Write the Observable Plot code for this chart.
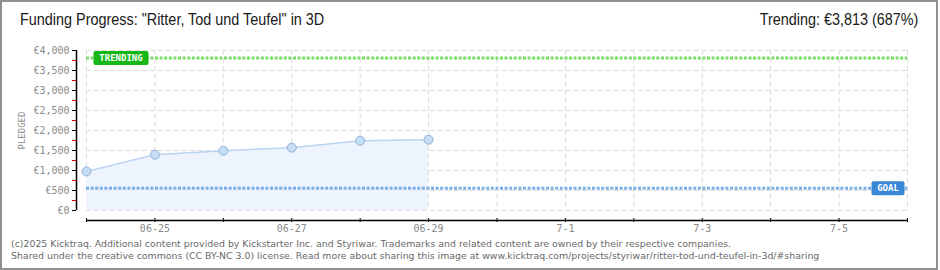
<!DOCTYPE html>
<html><head><meta charset="utf-8">
<script src="https://cdn.jsdelivr.net/npm/d3@7"></script>
<script src="https://cdn.jsdelivr.net/npm/@observablehq/plot@0.6"></script>
<style>
body{margin:0;background:#fff;}
#wrap{position:relative;width:940px;height:270px;overflow:hidden;background:#fff}
#border{position:absolute;left:0;top:0;width:938px;height:270px;box-sizing:border-box;border:2px solid #8e8e8e;pointer-events:none}
#chart{position:absolute;left:0;top:0}
#title{position:absolute;left:20px;top:11px;font-family:"Liberation Sans","DejaVu Sans",sans-serif;font-size:16px;color:#1a1a1a;white-space:nowrap;transform:scaleX(0.9);transform-origin:left top}
#trend{position:absolute;right:22px;top:11px;font-family:"Liberation Sans","DejaVu Sans",sans-serif;font-size:16px;color:#1a1a1a;white-space:nowrap;transform:scaleX(0.9);transform-origin:right top}
.foot{position:absolute;left:11px;font-family:"DejaVu Sans",sans-serif;font-size:9.4px;color:#6a6a6a;white-space:nowrap}
</style></head>
<body>
<div id="wrap">
  <div id="chart"></div>
  <div id="title"></div>
  <div id="trend"></div>
  <div class="foot" id="foot1" style="top:238px"></div>
  <div class="foot" id="foot2" style="top:250px"></div>
  <div id="border"></div>
</div>
<script>
// ---- data ----
const titleText = 'Funding Progress: "Ritter, Tod und Teufel" in 3D';
const trendText = "Trending:  €3,813 (687%)";
const footLines = [
  "(c)2025 Kicktraq. Additional content provided by Kickstarter Inc. and Styriwar. Trademarks and related content are owned by their respective companies.",
  "Shared under the creative commons (CC BY-NC 3.0) license. Read more about sharing this image at www.kicktraq.com/projects/styriwar/ritter-tod-und-teufel-in-3d/#sharing"
];
const pledgeDates = ["2025-06-24","2025-06-25","2025-06-26","2025-06-27","2025-06-28","2025-06-29"];
const pledged = [975, 1395, 1495, 1570, 1745, 1770];
const goal = 555;
const trending = 3813;
const xDomain = ["2025-06-24","2025-07-06"];
const dayTicks = ["2025-06-24","2025-06-25","2025-06-26","2025-06-27","2025-06-28","2025-06-29","2025-06-30","2025-07-01","2025-07-02","2025-07-03","2025-07-04","2025-07-05","2025-07-06"];
const labelTicks = ["2025-06-25","2025-06-27","2025-06-29","2025-07-01","2025-07-03","2025-07-05"];
const labelTexts = ["06-25","06-27","06-29","7-1","7-3","7-5"];
const yMajor = [0,500,1000,1500,2000,2500,3000,3500,4000];
const yMinor = [250,750,1250,1750,2250,2750,3250,3750];
const yLabel = "PLEDGED";

// ---- build ----
const P = s => new Date(s + "T00:00:00Z");
const data = pledgeDates.map((d,i)=>({date:P(d), value:pledged[i]}));
const labelMap = new Map(labelTicks.map((d,i)=>[+P(d), labelTexts[i]]));
const fmt = d3.format(",");
const mono = "'DejaVu Sans Mono', monospace";

function roundBox(w,h,r){
  return {draw(ctx){
    const x0=-w/2,y0=-h/2,x1=w/2,y1=h/2;
    ctx.moveTo(x0+r,y0); ctx.lineTo(x1-r,y0); ctx.arcTo(x1,y0,x1,y0+r,r);
    ctx.lineTo(x1,y1-r); ctx.arcTo(x1,y1,x1-r,y1,r);
    ctx.lineTo(x0+r,y1); ctx.arcTo(x0,y1,x0,y1-r,r);
    ctx.lineTo(x0,y0+r); ctx.arcTo(x0,y0,x0+r,y0,r); ctx.closePath();
  }};
}

const grid = {stroke:"#dcdcdc", strokeOpacity:1, strokeDasharray:"5,3"};
const first = P(pledgeDates[0]);
const last = P(xDomain[1]);

const chart = Plot.plot({
  width: 940, height: 270,
  marginLeft: 86, marginRight: 33, marginTop: 50, marginBottom: 60,
  x: {type:"utc", domain: xDomain.map(P), axis: null, label: null},
  y: {domain:[0,4000], axis: null, label: null},
  style: {background:"transparent", overflow:"visible"},
  marks: [
    Plot.gridY(yMajor, grid),
    Plot.gridX(dayTicks.map(P), grid),
    Plot.areaY(data, {x:"date", y:"value", fill:"#edf4fd"}),
    Plot.lineY(data, {x:"date", y:"value", stroke:"#bad5f3", strokeWidth:1.5}),
    Plot.ruleY([goal], {stroke:"#7aaee6", strokeWidth:3, strokeDasharray:"3,1.6"}),
    Plot.ruleY([trending], {stroke:"#78dc68", strokeWidth:3, strokeDasharray:"3,1.6"}),
    Plot.dot(data, {x:"date", y:"value", r:4.5, fill:"#c6ddf6", stroke:"#94b3d8", strokeWidth:1}),
    // y axis
    Plot.ruleX([first], {y1:0, y2:4000, dx:-10, stroke:"#000", strokeWidth:1.5}),
    Plot.axisY(yMinor, {anchor:"left", dx:-10, tickSize:4, stroke:"#e00000", tickFormat:()=>"", label:null}),
    Plot.axisY(yMajor, {anchor:"left", dx:-10, tickSize:4, tickPadding:3, stroke:"#000", fill:"#8a8a8a",
      fontFamily:mono, fontSize:10, tickFormat:d=>"€"+fmt(d), label:null}),
    Plot.text([yLabel], {frameAnchor:"left", textAnchor:"middle", dx:-64, rotate:-90, fill:"#8a8a8a", fontFamily:mono, fontSize:9, letterSpacing:"3px"}),
    // x axis
    Plot.ruleY([0], {dy:10, stroke:"#000", strokeWidth:1.5}),
    Plot.axisX(dayTicks.map(P), {anchor:"bottom", dy:8, tickSize:4, stroke:"#000", tickFormat:()=>"", label:null}),
    Plot.axisX(labelTicks.map(P), {anchor:"bottom", dy:8, tickSize:0, tickPadding:6, fill:"#8a8a8a",
      fontFamily:mono, fontSize:10, tickFormat:d=>labelMap.get(+d), label:null}),
    // labels
    Plot.dot([{date:first, value:trending}], {x:"date", y:"value", dx:34.5, symbol:roundBox(55,14,2), fill:"#14b814", stroke:null}),
    Plot.text([{date:first, value:trending}], {x:"date", y:"value", dx:34.5, text:()=>"TRENDING", fill:"#fff", fontFamily:mono, fontWeight:"bold", fontSize:9, letterSpacing:"0.5px"}),
    Plot.dot([{date:last, value:goal}], {x:"date", y:"value", dx:-19.5, symbol:roundBox(33,14,2), fill:"#3a87d6", stroke:null}),
    Plot.text([{date:last, value:goal}], {x:"date", y:"value", dx:-19.5, text:()=>"GOAL", fill:"#fff", fontFamily:mono, fontWeight:"bold", fontSize:9, letterSpacing:"0.5px"})
  ]
});
document.getElementById("chart").appendChild(chart);
document.getElementById("title").textContent = titleText;
document.getElementById("trend").textContent = trendText;
document.getElementById("foot1").textContent = footLines[0];
document.getElementById("foot2").textContent = footLines[1];
</script>
</body></html>
